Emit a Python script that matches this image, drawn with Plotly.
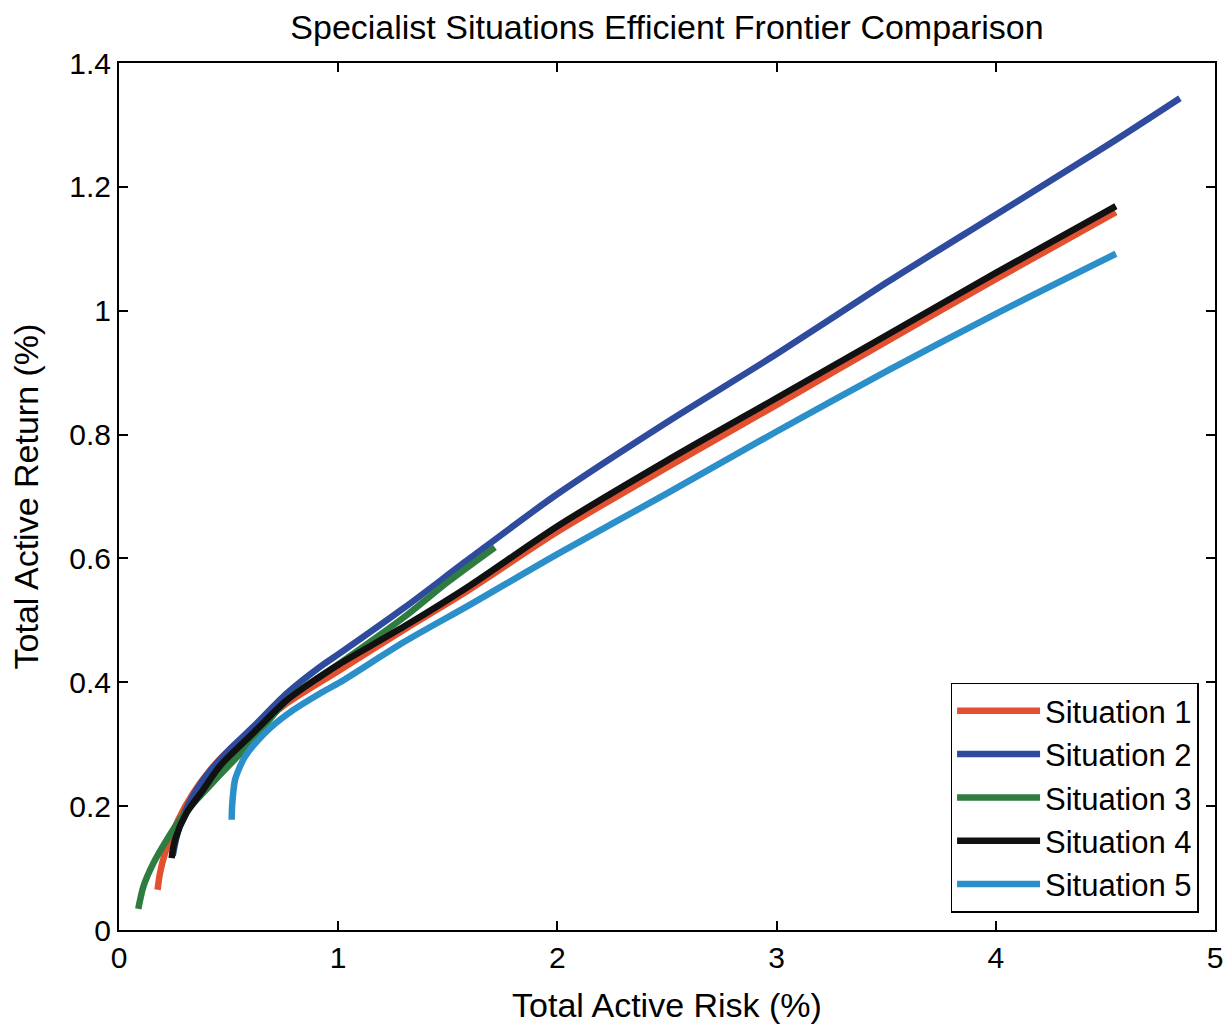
import plotly.graph_objects as go

# ---- data ----
s1_x = [0.176, 0.187, 0.21, 0.27, 0.338, 0.415, 0.5, 0.612, 0.765, 1.008, 1.3, 1.6, 2.0, 2.5, 3.0, 3.5, 4.0, 4.548]
s1_y = [0.065, 0.092, 0.124, 0.178, 0.221, 0.258, 0.29, 0.322, 0.366, 0.42, 0.485, 0.55, 0.643, 0.747, 0.848, 0.95, 1.051, 1.159]

s2_x = [0.245, 0.27, 0.32, 0.4, 0.5, 0.612, 0.765, 0.917, 1.008, 1.3, 1.6, 2.0, 2.5, 3.0, 3.5, 4.0, 4.5, 4.84]
s2_y = [0.12, 0.16, 0.205, 0.25, 0.29, 0.328, 0.382, 0.425, 0.447, 0.52, 0.60, 0.704, 0.82, 0.93, 1.045, 1.155, 1.265, 1.343]

s3_x = [0.088, 0.111, 0.157, 0.217, 0.278, 0.354, 0.446, 0.612, 0.765, 1.008, 1.3, 1.5, 1.715]
s3_y = [0.034, 0.070, 0.108, 0.145, 0.178, 0.21, 0.245, 0.307, 0.371, 0.431, 0.505, 0.562, 0.618]

s4_x = [0.24, 0.255, 0.308, 0.383, 0.461, 0.612, 0.765, 0.917, 1.008, 1.3, 1.6, 2.0, 2.5, 3.0, 3.5, 4.0, 4.548]
s4_y = [0.116, 0.145, 0.189, 0.226, 0.265, 0.318, 0.371, 0.409, 0.43, 0.49, 0.556, 0.652, 0.758, 0.859, 0.96, 1.061, 1.169]

s5_x = [0.514, 0.516, 0.521, 0.529, 0.552, 0.575, 0.613, 0.689, 0.794, 0.917, 1.008, 1.3, 1.6, 2.0, 2.5, 3.0, 3.5, 4.0, 4.548]
s5_y = [0.178, 0.20, 0.221, 0.242, 0.264, 0.28, 0.298, 0.326, 0.355, 0.382, 0.40, 0.465, 0.525, 0.607, 0.705, 0.805, 0.902, 0.995, 1.092]

names = ["Situation 1", "Situation 2", "Situation 3", "Situation 4", "Situation 5"]
colors = ["#E2502F", "#2E4B9E", "#2E7C3F", "#111111", "#2B8FC9"]

x_ticks = [0, 1, 2, 3, 4, 5]
y_ticks = [0, 0.2, 0.4, 0.6, 0.8, 1.0, 1.2, 1.4]
y_tick_labels = ["0", "0.2", "0.4", "0.6", "0.8", "1", "1.2", "1.4"]

series = [(s1_x, s1_y), (s2_x, s2_y), (s3_x, s3_y), (s4_x, s4_y), (s5_x, s5_y)]

FONT = "Liberation Sans, Arial, Helvetica, sans-serif"

fig = go.Figure()
for (xs, ys), name, col in zip(series, names, colors):
    fig.add_trace(go.Scatter(
        x=xs, y=ys, mode="lines", name=name,
        line=dict(color=col, width=6.5, shape="spline", smoothing=0.8),
    ))

fig.update_layout(
    width=1232, height=1030,
    margin=dict(l=119, r=17, t=63, b=100),
    paper_bgcolor="white", plot_bgcolor="white",
    font=dict(family=FONT, color="black", size=30),
    title=dict(text="Specialist Situations Efficient Frontier Comparison",
               x=0.5, xref="paper", y=1 - 27 / 1030, yref="container",
               xanchor="center", yanchor="middle",
               font=dict(size=34, family=FONT, color="black")),
    showlegend=True,
    legend=dict(x=0.985, y=0.02, xanchor="right", yanchor="bottom",
                bgcolor="white", bordercolor="black", borderwidth=1.5,
                font=dict(size=31, family=FONT, color="black"),
                itemwidth=83, tracegroupgap=0),
)

fig.update_xaxes(
    range=[0, 5], tickvals=x_ticks, ticktext=[str(v) for v in x_ticks],
    showgrid=False, zeroline=False,
    showline=True, linecolor="black", linewidth=2, mirror="ticks",
    ticks="inside", ticklen=9, tickwidth=1.5, tickcolor="black",
    tickfont=dict(size=30, family=FONT, color="black"),
    title=dict(text="Total Active Risk (%)", standoff=20,
               font=dict(size=34, family=FONT, color="black")),
    automargin=False,
)
fig.update_yaxes(
    range=[0, 1.4], tickvals=y_ticks, ticktext=y_tick_labels,
    showgrid=False, zeroline=False,
    showline=True, linecolor="black", linewidth=2, mirror="ticks",
    ticks="inside", ticklen=9, tickwidth=1.5, tickcolor="black",
    tickfont=dict(size=30, family=FONT, color="black"),
    title=dict(text="Total Active Return (%)", standoff=20,
               font=dict(size=34, family=FONT, color="black")),
    automargin=False,
)

fig.write_html("out.html")
